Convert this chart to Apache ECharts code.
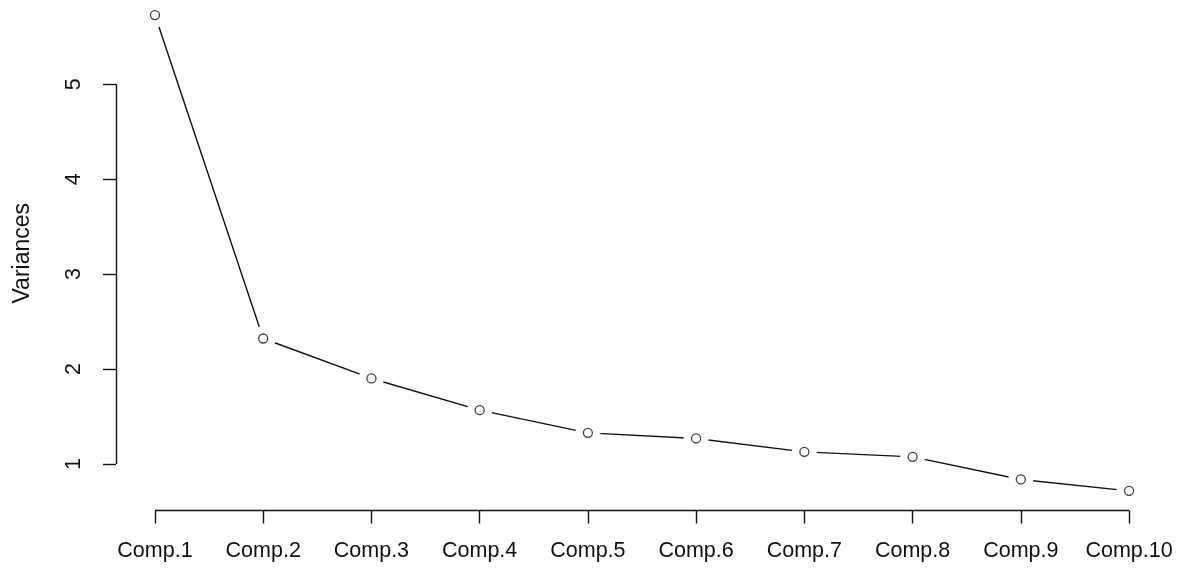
<!DOCTYPE html>
<html>
<head>
<meta charset="utf-8">
<title>Variances by component</title>
<script src="https://cdn.jsdelivr.net/npm/echarts@6/dist/echarts.min.js"></script>
<style>
  html, body { margin: 0; padding: 0; background: #fff; }
  #chart { width: 1183px; height: 568px; }
</style>
</head>
<body>
<div id="chart"></div>
<script>
// Component names along the horizontal axis
const components = ['Comp.1', 'Comp.2', 'Comp.3', 'Comp.4', 'Comp.5',
                    'Comp.6', 'Comp.7', 'Comp.8', 'Comp.9', 'Comp.10'];
// Variance of each component
const variances = [5.729, 2.322, 1.901, 1.567, 1.328, 1.269, 1.128, 1.075, 0.837, 0.717];
// Tick values on the variance axis
const yTicks = [1, 2, 3, 4, 5];
// Axis limits (data range padded by 4% on each side)
const xMin = 0.64, xMax = 10.36;
const yMin = 0.51, yMax = 5.93;

const FONT = '"Liberation Sans", Arial, sans-serif';
const INK = '#111';
const positions = components.map((_, i) => i + 1);
const points = variances.map((v, i) => [positions[i], v]);

const chart = echarts.init(document.getElementById('chart'), null, { renderer: 'canvas' });

chart.setOption({
  animation: false,
  backgroundColor: '#ffffff',
  grid: {
    left: 116, right: 15, top: -4, bottom: 57.5,
    containLabel: false,
    outerBoundsMode: 'none'
  },
  xAxis: {
    type: 'value',
    min: xMin, max: xMax,
    splitLine: { show: false },
    axisLine: { show: false },
    axisTick: {
      show: true, length: 13,
      customValues: positions,
      lineStyle: { color: INK, width: 1.4 }
    },
    axisLabel: {
      show: true, margin: 30,
      customValues: positions,
      formatter: (v) => components[Math.round(v) - 1] || '',
      color: INK, fontSize: 21.5, fontFamily: FONT
    }
  },
  yAxis: {
    type: 'value',
    min: yMin, max: yMax,
    name: 'Variances',
    nameLocation: 'middle',
    nameRotate: 90,
    nameGap: 82,
    nameTextStyle: { color: INK, fontSize: 23, fontFamily: FONT },
    splitLine: { show: false },
    axisLine: { show: false },
    axisTick: {
      show: true, length: 13,
      customValues: yTicks,
      lineStyle: { color: INK, width: 1.4 }
    },
    axisLabel: {
      show: true, rotate: 90, margin: 31,
      customValues: yTicks,
      formatter: (v) => String(v),
      color: INK, fontSize: 21.5, fontFamily: FONT
    }
  },
  series: [
    {
      // connecting line; its white symbols open a small gap around each point.
      // The mark lines draw the axis lines from the first to the last tick.
      type: 'line',
      data: points,
      showSymbol: true,
      showAllSymbol: true,
      symbol: 'circle',
      symbolSize: 25,
      clip: false,
      silent: true,
      z: 1,
      itemStyle: { color: '#ffffff', borderWidth: 0 },
      lineStyle: { color: INK, width: 1.4 },
      emphasis: { disabled: true },
      markLine: {
        silent: true,
        symbol: ['none', 'none'],
        label: { show: false },
        lineStyle: { color: INK, width: 1.4, type: 'solid' },
        emphasis: { disabled: true },
        data: [
          [{ coord: [positions[0], yMin] }, { coord: [positions[positions.length - 1], yMin] }],
          [{ coord: [xMin, yTicks[0]] }, { coord: [xMin, yTicks[yTicks.length - 1]] }]
        ]
      }
    },
    {
      // open circle markers
      type: 'scatter',
      data: points,
      symbol: 'circle',
      symbolSize: 9,
      z: 5,
      itemStyle: { color: '#ffffff', borderColor: INK, borderWidth: 1.3 }
    }
  ]
});
</script>
</body>
</html>
